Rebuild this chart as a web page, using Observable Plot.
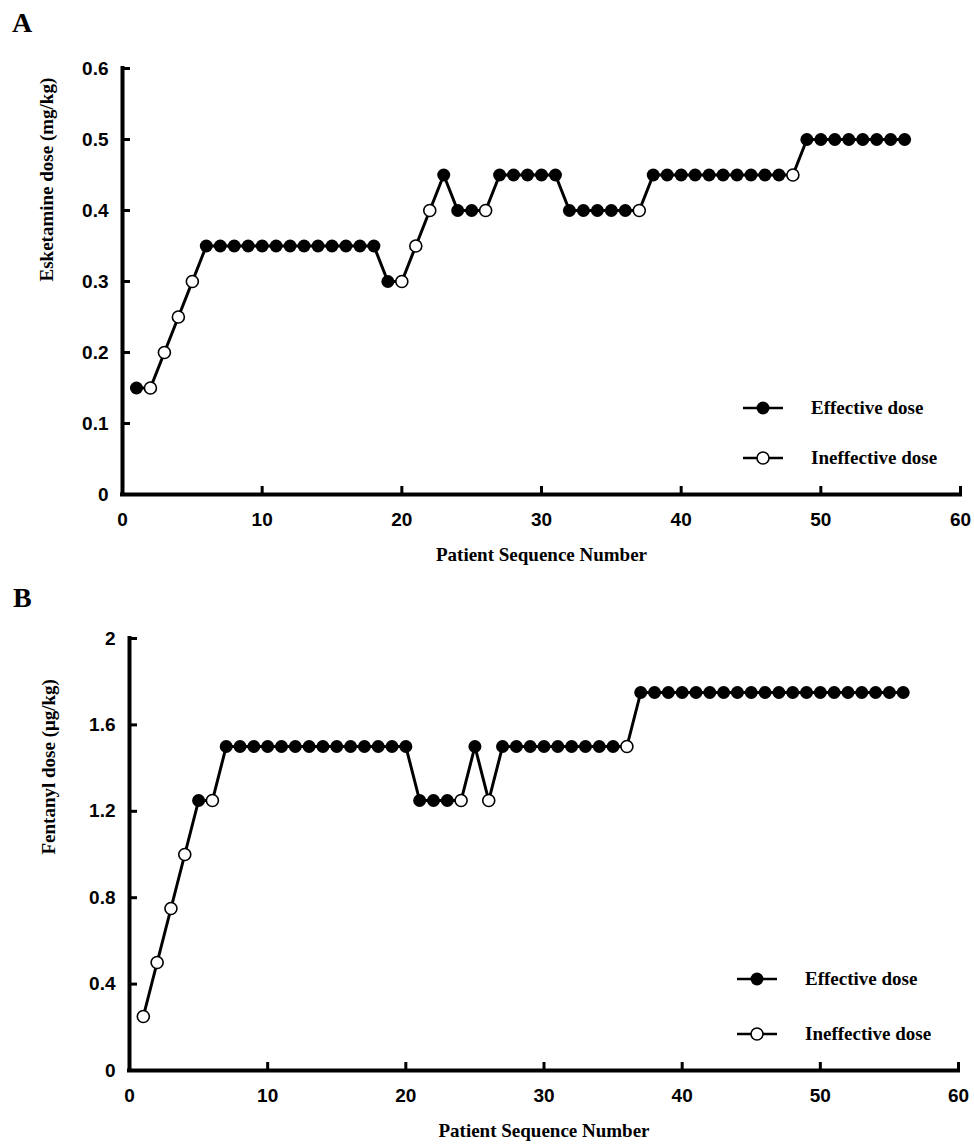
<!DOCTYPE html>
<html>
<head>
<meta charset="utf-8">
<script src="https://cdn.jsdelivr.net/npm/d3@7"></script>
<script src="https://cdn.jsdelivr.net/npm/@observablehq/plot@0.6"></script>
<style>
  html, body { margin: 0; padding: 0; background: #fff; }
  #wrap { position: relative; width: 974px; height: 1146px; overflow: hidden; }
  .panel { position: absolute; left: 0; }
  .letter { position: absolute; z-index: 5; font-family: "Liberation Serif", "Times New Roman", serif; font-weight: bold; font-size: 28px; line-height: 1; color: #000; }
  .leg { position: absolute; z-index: 5; font-family: "Liberation Serif", "Times New Roman", serif; font-weight: bold; font-size: 19px; color: #000; display: flex; align-items: center; white-space: nowrap; }
  .leg svg { margin-right: 28px; }
</style>
</head>
<body>
<div id="wrap">
  <div id="panelA" class="panel" style="top:0px;"></div>
  <div id="panelB" class="panel" style="top:580px;"></div>
  <div class="letter" style="left:12px; top:9px;">A</div>
  <div class="letter" style="left:13px; top:584px;">B</div>
  <div id="legendA"></div>
  <div id="legendB"></div>
</div>
<script>
// ---------- Data ----------
// Panel A: esketamine dose (mg/kg) per patient in sequence (patients 1..56)
const esketamineDose = [
  0.15, 0.15, 0.20, 0.25, 0.30,
  0.35, 0.35, 0.35, 0.35, 0.35, 0.35, 0.35, 0.35, 0.35, 0.35, 0.35, 0.35, 0.35,
  0.30, 0.30, 0.35, 0.40, 0.45, 0.40, 0.40, 0.40,
  0.45, 0.45, 0.45, 0.45, 0.45,
  0.40, 0.40, 0.40, 0.40, 0.40, 0.40,
  0.45, 0.45, 0.45, 0.45, 0.45, 0.45, 0.45, 0.45, 0.45, 0.45, 0.45,
  0.50, 0.50, 0.50, 0.50, 0.50, 0.50, 0.50, 0.50
];
// 1 = effective dose, 0 = ineffective dose
const esketamineEffective = [
  1, 0, 0, 0, 0,
  1, 1, 1, 1, 1, 1, 1, 1, 1, 1, 1, 1, 1,
  1, 0, 0, 0, 1, 1, 1, 0,
  1, 1, 1, 1, 1,
  1, 1, 1, 1, 1, 0,
  1, 1, 1, 1, 1, 1, 1, 1, 1, 1, 0,
  1, 1, 1, 1, 1, 1, 1, 1
];

// Panel B: fentanyl dose (µg/kg) per patient in sequence (patients 1..56)
const fentanylDose = [
  0.25, 0.50, 0.75, 1.00, 1.25, 1.25,
  1.50, 1.50, 1.50, 1.50, 1.50, 1.50, 1.50, 1.50, 1.50, 1.50, 1.50, 1.50, 1.50, 1.50,
  1.25, 1.25, 1.25, 1.25, 1.50, 1.25,
  1.50, 1.50, 1.50, 1.50, 1.50, 1.50, 1.50, 1.50, 1.50, 1.50,
  1.75, 1.75, 1.75, 1.75, 1.75, 1.75, 1.75, 1.75, 1.75, 1.75,
  1.75, 1.75, 1.75, 1.75, 1.75, 1.75, 1.75, 1.75, 1.75, 1.75
];
const fentanylEffective = [
  0, 0, 0, 0, 1, 0,
  1, 1, 1, 1, 1, 1, 1, 1, 1, 1, 1, 1, 1, 1,
  1, 1, 1, 0, 1, 0,
  1, 1, 1, 1, 1, 1, 1, 1, 1, 0,
  1, 1, 1, 1, 1, 1, 1, 1, 1, 1,
  1, 1, 1, 1, 1, 1, 1, 1, 1, 1
];

// Tick labels
const xTicks = [0, 10, 20, 30, 40, 50, 60];
const yTicksA = [0, 0.1, 0.2, 0.3, 0.4, 0.5, 0.6];
const yTicksB = [0, 0.4, 0.8, 1.2, 1.6, 2];

const xLabel = "Patient Sequence Number";
const yLabelA = "Esketamine dose (mg/kg)";
const yLabelB = "Fentanyl dose (\u03bcg/kg)";
const legendLabels = ["Effective dose", "Ineffective dose"];

// ---------- Helpers ----------
const SANS = "Liberation Sans, Arial, Helvetica, sans-serif";
const SERIF = "Liberation Serif, Times New Roman, serif";

function rowsOf(doses, eff) {
  return doses.map((d, i) => ({patient: i + 1, dose: d, effective: eff[i]}));
}

function panel({rows, yDomain, yTicks, yLabel, height, mt, mb, ml, mr, yTitleDx}) {
  return Plot.plot({
    width: 974,
    height,
    marginTop: mt,
    marginBottom: mb,
    marginLeft: ml,
    marginRight: mr,
    x: {domain: [0, 60]},
    y: {domain: yDomain},
    style: {background: "white", color: "black", overflow: "visible"},
    marks: [
      // inward tick marks
      Plot.axisX({ticks: xTicks, tickSize: -8, strokeWidth: 3, tickFormat: () => "", label: null}),
      Plot.axisY({ticks: yTicks, tickSize: -8, strokeWidth: 3, tickFormat: () => "", label: null}),
      // tick labels
      Plot.axisX({ticks: xTicks, tickSize: 0, tickPadding: 18, tickFormat: d => String(d), label: null,
        fontFamily: SANS, fontWeight: "bold", fontSize: 19}),
      Plot.axisY({ticks: yTicks, tickSize: 0, tickPadding: 14, tickFormat: d => String(d), label: null,
        fontFamily: SANS, fontWeight: "bold", fontSize: 19}),
      // axis lines
      Plot.ruleX([0], {strokeWidth: 4, strokeLinecap: "square"}),
      Plot.ruleY([0], {strokeWidth: 4, strokeLinecap: "square"}),
      // titles
      Plot.text([xLabel], {frameAnchor: "bottom", dy: 66, text: d => d,
        fontFamily: SERIF, fontWeight: "bold", fontSize: 19, fill: "black"}),
      Plot.text([yLabel], {frameAnchor: "left", dx: yTitleDx, rotate: -90, text: d => d,
        fontFamily: SERIF, fontWeight: "bold", fontSize: 19, fill: "black"}),
      // data
      Plot.line(rows, {x: "patient", y: "dose", stroke: "black", strokeWidth: 3}),
      Plot.dot(rows, {filter: d => d.effective === 1, x: "patient", y: "dose", r: 6.5, fill: "black", stroke: "none"}),
      Plot.dot(rows, {filter: d => d.effective === 0, x: "patient", y: "dose", r: 6, fill: "white", stroke: "black", strokeWidth: 1.6})
    ]
  });
}

document.getElementById("panelA").append(panel({
  rows: rowsOf(esketamineDose, esketamineEffective),
  yDomain: [0, 0.6], yTicks: yTicksA, yLabel: yLabelA,
  height: 580, mt: 68, mb: 86, ml: 122, mr: 14, yTitleDx: -76
}));

document.getElementById("panelB").append(panel({
  rows: rowsOf(fentanylDose, fentanylEffective),
  yDomain: [0, 2], yTicks: yTicksB, yLabel: yLabelB,
  height: 566, mt: 58, mb: 76, ml: 129, mr: 16, yTitleDx: -81
}));

// ---------- Legends (overlaid) ----------
function legend(containerId, left, tops) {
  const c = document.getElementById(containerId);
  legendLabels.forEach((lab, i) => {
    const row = document.createElement("div");
    row.className = "leg";
    row.style.left = left + "px";
    row.style.top = (tops[i] - 12) + "px";
    row.style.height = "24px";
    const filled = i === 0;
    row.innerHTML =
      `<svg width="40" height="24" viewBox="0 0 40 24">
         <line x1="0" y1="12" x2="40" y2="12" stroke="black" stroke-width="2.5"/>
         <circle cx="20" cy="12" r="${filled ? 6.5 : 6}" fill="${filled ? "black" : "white"}" stroke="black" stroke-width="${filled ? 0 : 1.6}"/>
       </svg><span>${lab}</span>`;
    c.append(row);
  });
}
legend("legendA", 743, [408, 458]);
legend("legendB", 737, [979, 1034]);
</script>
</body>
</html>
